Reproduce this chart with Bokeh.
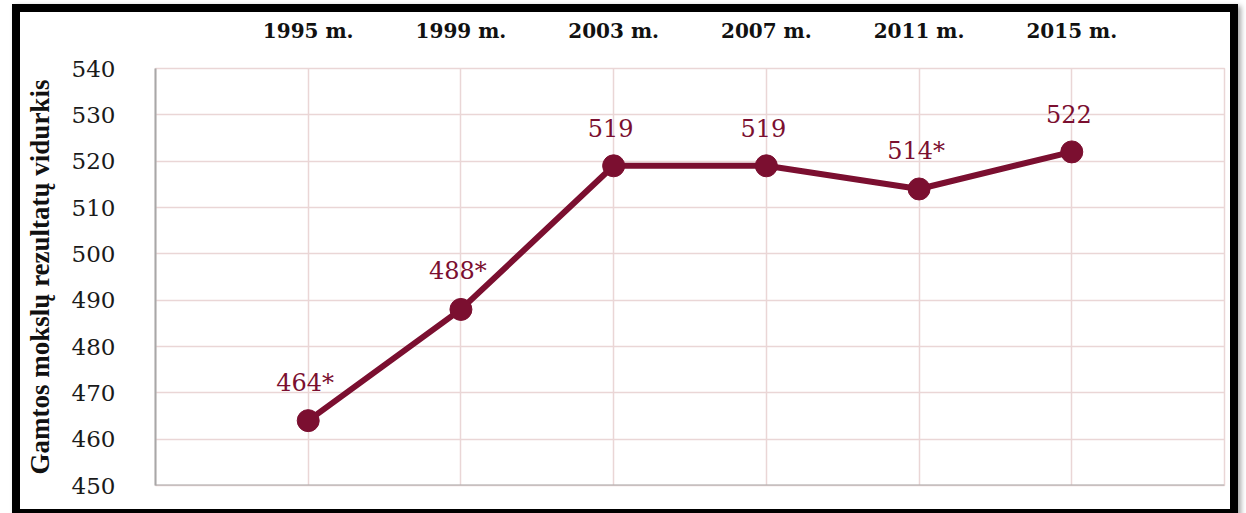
from bokeh.plotting import figure
from bokeh.models import ColumnDataSource, FixedTicker, Span, InlineStyleSheet
from bokeh.core.properties import value
from bokeh.embed import file_html
from bokeh.resources import INLINE

# Survey years and mean science scores
years = ["1995 m.", "1999 m.", "2003 m.", "2007 m.", "2011 m.", "2015 m."]
scores = [464, 488, 519, 519, 514, 522]
score_labels = ["464*", "488*", "519", "519", "514*", "522"]
y_ticks = [450, 460, 470, 480, 490, 500, 510, 520, 530, 540]

MAROON = "#7b0f30"
GRID = "#ead6d6"
FONT = "DejaVu Serif"

positions = list(range(1, len(years) + 1))
src = ColumnDataSource(dict(x=positions, y=scores, label=score_labels))

# black picture frame drawn over the canvas
frame_css = InlineStyleSheet(css="""
:host { position: relative; }
:host::after {
  content: "";
  position: absolute;
  left: 12px; top: 4px; width: 1226px; height: 513px;
  box-sizing: border-box;
  border: 8px solid #000;
  box-shadow: 3px 2px 5px rgba(0,0,0,0.35);
  pointer-events: none;
  z-index: 10;
}
""")

p = figure(width=1246, height=513, output_backend="svg", toolbar_location=None,
           x_range=(0, len(years) + 1), y_range=(450, 540),
           x_axis_location="above",
           min_border_left=155, min_border_right=22,
           min_border_top=68, min_border_bottom=28,
           stylesheets=[frame_css])
p.background_fill_color = "white"
p.border_fill_color = "white"
p.outline_line_color = GRID
p.outline_line_width = 1.5

# category labels along the top
xa = p.xaxis[0]
xa.ticker = FixedTicker(ticks=positions)
xa.major_label_overrides = {i: t for i, t in zip(positions, years)}
xa.axis_line_color = None
xa.major_tick_line_color = None
xa.minor_tick_line_color = None
xa.major_label_standoff = 20
xa.major_label_text_font = FONT
xa.major_label_text_font_style = "bold"
xa.major_label_text_font_size = "20px"
xa.major_label_text_color = "#111111"

ya = p.yaxis[0]
ya.ticker = FixedTicker(ticks=y_ticks)
ya.axis_line_color = "#a8a8a8"
ya.axis_line_width = 2
ya.major_tick_line_color = None
ya.minor_tick_line_color = None
ya.major_label_standoff = 34
ya.major_label_text_font = FONT
ya.major_label_text_font_size = "23px"
ya.major_label_text_color = "#1a1a1a"
ya.axis_label = "Gamtos mokslų rezultatų vidurkis"
ya.axis_label_text_font = "Liberation Serif"
ya.axis_label_text_font_style = "bold"
ya.axis_label_text_font_size = "27px"
ya.axis_label_text_color = "#111111"
ya.axis_label_standoff = 14

p.xgrid.ticker = FixedTicker(ticks=positions)
p.xgrid.grid_line_color = GRID
p.xgrid.grid_line_width = 1.5
p.ygrid.ticker = FixedTicker(ticks=y_ticks)
p.ygrid.grid_line_color = GRID
p.ygrid.grid_line_width = 1.5

# gray baseline
p.add_layout(Span(location=450, dimension="width", line_color="#a8a8a8", line_width=2))

p.line("x", "y", source=src, line_color=MAROON, line_width=6)
p.scatter("x", "y", source=src, size=22, fill_color=MAROON, line_color=MAROON)
p.text("x", "y", text="label", source=src, text_align="center", text_baseline="middle",
       y_offset=-38, x_offset=-3, text_font=value(FONT), text_font_size="24px",
       text_color=MAROON)

open("out.html", "w").write(file_html(p, INLINE))
